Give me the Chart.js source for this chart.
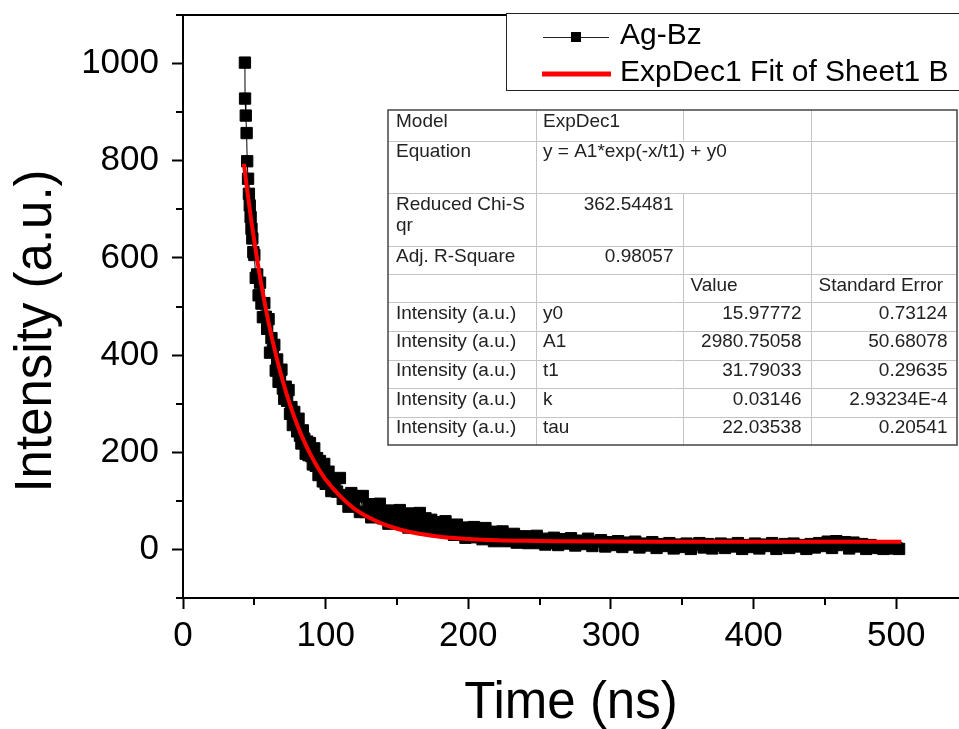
<!DOCTYPE html>
<html>
<head>
<meta charset="utf-8">
<script src="https://cdn.jsdelivr.net/npm/chart.js@4.4.0/dist/chart.umd.min.js"></script>
<style>
  html, body { margin: 0; padding: 0; background: #fff; }
  #wrap { width: 959px; height: 729px; position: relative; }
</style>
</head>
<body>
<div id="wrap"><canvas id="decayChart"></canvas></div>
<script>
// measured decay (Ag-Bz), time in ns
const timeNs = [
  43.4, 43.5, 44.0, 44.6, 45.0, 45.6, 46.2, 46.8, 47.4, 48.0, 48.6, 49.3,
  50, 51, 52, 53, 54, 55, 56, 57, 58, 59, 60, 61, 62, 63, 64, 65, 66, 67, 68, 69,
  70, 71, 72, 73, 74, 75, 76, 77, 78, 79, 80, 81, 82, 83, 84, 85, 86, 87, 88, 89,
  90, 91, 92, 93, 94, 95, 96, 97, 98, 99, 100,
  102, 104, 106, 108, 110, 112, 114, 116, 118, 120, 122, 124, 126, 128, 130,
  132, 134, 136, 138, 140, 142, 144, 146, 148, 150, 152, 154, 156, 158, 160,
  162, 164, 166, 168, 170, 172, 174, 176, 178, 180, 182, 184, 186, 188, 190,
  192, 194, 196, 198, 200, 202, 204, 206, 208, 210, 212, 214, 216, 218, 220,
  222, 224, 226, 228, 230, 232, 234, 236, 238, 240, 242, 244, 246, 248, 250,
  252, 254, 256, 258, 260,
  263, 266, 269, 272, 275, 278, 281, 284, 287, 290, 293, 296, 299, 302, 305,
  308, 311, 314, 317, 320, 323, 326, 329, 332, 335, 338, 341, 344, 347, 350,
  353, 356, 359, 362, 365, 368, 371, 374, 377, 380, 383, 386, 389, 392, 395,
  398, 401, 404, 407, 410, 413, 416, 419, 422, 425, 428, 431, 434, 437, 440,
  443, 446, 449, 452, 455, 458, 461, 464, 467, 470, 473, 476, 479, 482, 485,
  488, 491, 494, 497, 500, 502
];
const intensity = [
  1002, 928, 893, 857, 799, 763, 732, 708, 684, 660, 640, 612,
  606, 559, 566, 523, 549, 506, 478, 507, 479, 454, 474, 405, 435, 410, 421, 368, 391, 345, 352, 370,
  331, 310, 335, 306, 328, 279, 293, 256, 283, 265, 243, 269, 234, 218, 245, 228, 197, 222, 194, 219,
  192, 175, 208, 172, 188, 153, 182, 165, 140, 176, 135,
  160, 120, 140, 119, 147, 104, 112, 88, 116, 97, 109, 77, 110, 77, 87,
  66, 93, 72, 94, 64, 79, 53, 80, 67, 54, 81, 56, 67, 45, 74,
  57, 47, 75, 42, 64, 49, 61, 38, 52, 56, 41, 58, 36, 45, 30,
  51, 37, 43, 24, 45, 30, 46, 25, 35, 21, 44, 26, 36, 17, 36,
  26, 37, 17, 29, 18, 32, 14, 26, 20, 27, 13, 25, 16, 28, 13,
  19, 10, 22, 14, 24,
  9, 21, 12, 23, 8, 18, 11, 22, 7, 16, 19, 6, 15, 9, 17,
  5, 14, 10, 16, 4, 12, 8, 15, 3, 11, 7, 13, 2, 10, 5,
  12, 1, 9, 13, 4, 11, 2, 8, 12, 3, 10, 6, 13, 1, 9,
  5, 12, 2, 10, 7, 13, 1, 8, 11, 3, 12, 6, 9, 1, 11,
  4, 13, 7, 16, 3, 17, 9, 15, 2, 14, 6, 11, 1, 9, 4,
  3, 1, 4, 2, 3, 1
];

// ExpDec1 fit curve
const fitTime = [42.7, 45, 48, 51, 55, 60, 65, 70, 75, 80, 85, 90, 95, 100, 110, 120, 130, 140,
  150, 160, 170, 180, 190, 200, 220, 240, 260, 300, 350, 400, 450, 503.6];
const fitIntensity = [794, 740, 674, 615, 544, 467, 402, 346, 298, 257, 222, 192, 166, 144, 110, 84, 66, 52.5,
  42.6, 35.4, 30.2, 26.3, 23.5, 21.5, 18.9, 17.6, 16.9, 16.2, 16.0, 16.0, 16.0, 16.0];

const xTicks = [0, 100, 200, 300, 400, 500];
const xMinorTicks = [50, 150, 250, 350, 450];
const yTicks = [0, 200, 400, 600, 800, 1000];
const yMinorTicks = [-100, 100, 300, 500, 700, 900, 1100];

const legendLabels = ["Ag-Bz", "ExpDec1 Fit of Sheet1 B"];

const tableRows = [
  ["Model", "ExpDec1", "", ""],
  ["Equation", "y = A1*exp(-x/t1) + y0", "", ""],
  ["Reduced Chi-S\nqr", "362.54481", "", ""],
  ["Adj. R-Square", "0.98057", "", ""],
  ["", "", "Value", "Standard Error"],
  ["Intensity (a.u.)", "y0", "15.97772", "0.73124"],
  ["Intensity (a.u.)", "A1", "2980.75058", "50.68078"],
  ["Intensity (a.u.)", "t1", "31.79033", "0.29635"],
  ["Intensity (a.u.)", "k", "0.03146", "2.93234E-4"],
  ["Intensity (a.u.)", "tau", "22.03538", "0.20541"]
];

const fontFamily = "'Liberation Sans', Arial, Helvetica, sans-serif";

// minor ticks, top frame line and the y title
const frameExtras = {
  id: "frameExtras",
  afterDraw(chart) {
    const { ctx, chartArea, scales } = chart;
    ctx.save();
    ctx.strokeStyle = "#000";
    ctx.lineWidth = 2;
    ctx.beginPath();
    xMinorTicks.forEach((v) => {
      const px = Math.round(scales.x.getPixelForValue(v));
      ctx.moveTo(px, chartArea.bottom);
      ctx.lineTo(px, chartArea.bottom + 7);
    });
    yMinorTicks.forEach((v) => {
      const py = Math.round(scales.y.getPixelForValue(v));
      ctx.moveTo(chartArea.left, py);
      ctx.lineTo(chartArea.left - 7, py);
    });
    ctx.moveTo(chartArea.left - 7, chartArea.top);
    ctx.lineTo(chartArea.right, chartArea.top);
    ctx.stroke();

    ctx.translate(37, 331);
    ctx.rotate(-Math.PI / 2);
    ctx.fillStyle = "#000";
    ctx.font = "51px " + fontFamily;
    ctx.textAlign = "center";
    ctx.textBaseline = "middle";
    ctx.fillText("Intensity (a.u.)", 0, 0);
    ctx.restore();
  },
};

// legend box and fit-parameter table
const fitBoxes = {
  id: "fitBoxes",
  afterDraw(chart) {
    const ctx = chart.ctx;
    ctx.save();

    // legend
    ctx.fillStyle = "#fff";
    ctx.fillRect(506, 13, 470, 78);
    ctx.strokeStyle = "#222";
    ctx.lineWidth = 1;
    ctx.strokeRect(506.5, 13.5, 470, 77);

    ctx.beginPath();
    ctx.moveTo(543, 37.5);
    ctx.lineTo(609, 37.5);
    ctx.stroke();
    ctx.fillStyle = "#000";
    ctx.fillRect(571, 32, 10, 10);

    ctx.strokeStyle = "#f00";
    ctx.lineWidth = 5;
    ctx.beginPath();
    ctx.moveTo(542, 74);
    ctx.lineTo(611, 74);
    ctx.stroke();

    ctx.fillStyle = "#000";
    ctx.font = "30px " + fontFamily;
    ctx.textAlign = "left";
    ctx.textBaseline = "middle";
    ctx.fillText(legendLabels[0], 620, 36);
    ctx.fillText(legendLabels[1], 620, 73);

    // table
    const colX = [388, 535.5, 683, 811, 957];
    const rowY = [110, 140.5, 193.3, 245.7, 274, 302.3, 330.7, 359.5, 388.3, 416.7, 445];
    ctx.fillStyle = "#fff";
    ctx.fillRect(colX[0], rowY[0], colX[4] - colX[0], rowY[10] - rowY[0]);

    ctx.strokeStyle = "#c4c4c4";
    ctx.lineWidth = 1;
    ctx.beginPath();
    for (let r = 1; r < rowY.length - 1; r++) {
      ctx.moveTo(colX[0], Math.round(rowY[r]) + 0.5);
      ctx.lineTo(colX[4], Math.round(rowY[r]) + 0.5);
    }
    for (let c = 1; c < colX.length - 1; c++) {
      for (let r = 0; r < rowY.length - 1; r++) {
        if (r === 1 && c === 2) continue; // equation cell spans two columns
        ctx.moveTo(Math.round(colX[c]) + 0.5, rowY[r]);
        ctx.lineTo(Math.round(colX[c]) + 0.5, rowY[r + 1]);
      }
    }
    ctx.stroke();

    ctx.strokeStyle = "#444";
    ctx.lineWidth = 1.5;
    ctx.strokeRect(colX[0], rowY[0], colX[4] - colX[0], rowY[10] - rowY[0]);

    ctx.fillStyle = "#222";
    ctx.font = "19px " + fontFamily;
    ctx.textBaseline = "middle";
    tableRows.forEach((row, r) => {
      row.forEach((cell, c) => {
        if (!cell) return;
        const numeric = /^[0-9.E-]+$/.test(cell);
        cell.split("\n").forEach((line, i) => {
          const y = rowY[r] + 11.5 + i * 21;
          if (numeric) {
            ctx.textAlign = "right";
            ctx.fillText(line, colX[c + 1] - 9.5, y);
          } else {
            ctx.textAlign = "left";
            ctx.fillText(line, colX[c] + (c === 0 ? 8 : 7.5), y);
          }
        });
      });
    });
    ctx.restore();
  },
};

const ctx = document.getElementById("decayChart");
const decayChart = new Chart(ctx, {
  type: "scatter",
  data: {
    datasets: [
      {
        label: legendLabels[1],
        data: fitTime.map((t, i) => ({ x: t, y: fitIntensity[i] })),
        showLine: true,
        borderColor: "#f00",
        borderWidth: 4,
        pointRadius: 0,
        cubicInterpolationMode: "monotone",
        order: 0,
      },
      {
        label: legendLabels[0],
        data: timeNs.map((t, i) => ({ x: t, y: intensity[i] })),
        showLine: true,
        borderColor: "#000",
        borderWidth: 1,
        pointStyle: "rect",
        pointRadius: 8,
        pointBackgroundColor: "#000",
        pointBorderColor: "#000",
        pointBorderWidth: 1,
        order: 1,
      },
    ],
  },
  options: {
    responsive: true,
    maintainAspectRatio: false,
    animation: false,
    devicePixelRatio: 1,
    layout: { autoPadding: false, padding: { top: 15, right: 0, bottom: 0, left: 0 } },
    plugins: {
      legend: { display: false },
      tooltip: { enabled: false },
    },
    scales: {
      x: {
        type: "linear",
        min: 0,
        max: 544,
        afterBuildTicks: (scale) => {
          scale.ticks = xTicks.map((v) => ({ value: v }));
        },
        afterFit: (scale) => {
          scale.height = 131;
          scale.paddingLeft = 0;
          scale.paddingRight = 0;
        },
        grid: {
          drawOnChartArea: false,
          drawTicks: true,
          tickLength: 11,
          tickWidth: 2,
          tickColor: "#000",
        },
        border: { display: true, color: "#000", width: 2 },
        ticks: {
          color: "#000",
          padding: 6,
          maxRotation: 0,
          callback: (v) => String(v),
          font: { family: fontFamily, size: 35 },
        },
        title: {
          display: true,
          text: "Time (ns)",
          color: "#000",
          font: { family: fontFamily, size: 51, lineHeight: 1 },
          padding: { top: 0, bottom: 0 },
        },
      },
      y: {
        type: "linear",
        min: -100,
        max: 1100,
        afterBuildTicks: (scale) => {
          scale.ticks = yTicks.map((v) => ({ value: v }));
        },
        afterFit: (scale) => {
          scale.width = 183;
          scale.paddingTop = 0;
          scale.paddingBottom = 0;
        },
        grid: {
          drawOnChartArea: false,
          drawTicks: true,
          tickLength: 11,
          tickWidth: 2,
          tickColor: "#000",
        },
        border: { display: true, color: "#000", width: 2 },
        ticks: {
          color: "#000",
          padding: 13,
          callback: (v) => String(v),
          font: { family: fontFamily, size: 35 },
        },
      },
    },
  },
  plugins: [frameExtras, fitBoxes],
});
</script>
</body>
</html>
